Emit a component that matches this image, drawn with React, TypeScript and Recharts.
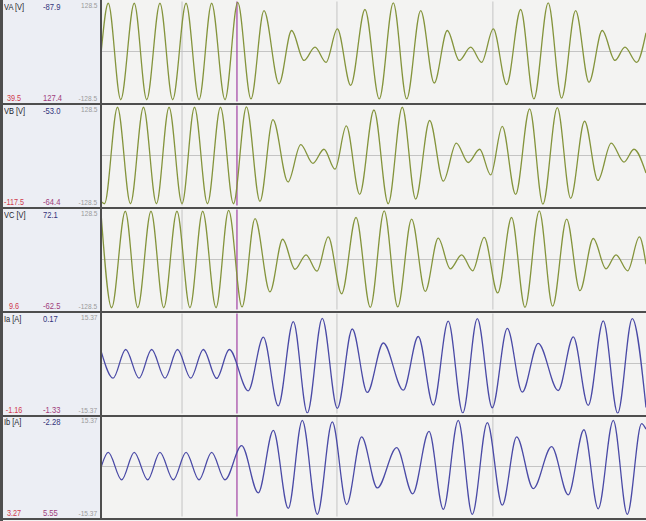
import React from 'react';
import { LineChart, Line, XAxis, YAxis, ReferenceLine } from 'recharts';

// time axis in ms (0 .. 419.7 over the visible window)
const timeDomain: [number, number] = [0, 419.7];
const gridTimes = [62.4, 181.7, 301.8];
const cursorTime = 104.7;

// VA [V] – extremes of the waveform
const vaT = [0, 5.6, 15.2, 25.6, 35.2, 45.4, 55.2, 65.5, 75.5, 85.2, 95.5, 105.3, 115.5, 125.5, 137.1, 146.8, 156.3, 164.8, 173.3, 182.0, 192.3, 203.3, 214.3, 225.1, 235.4, 246.2, 256.6, 266.7, 275.9, 284.7, 293.1, 302.1, 312.4, 323.2, 333.4, 344.4, 354.7, 365.5, 375.8, 386.0, 395.8, 403.5, 412.5, 419.7];
const vaV = [-6, 124, -124, 124, -124, 124, -124, 124, -124, 124, -124, 126, -122, 105, -83, 54, -23, 11, -28, 58, -87, 108, -122, 125, -122, 105, -81, 54, -23, 11, -28, 58, -85, 108, -122, 125, -120, 105, -79, 54, -23, 11, -28, 48];

// VB [V]
const vbT = [0, 2.7, 12.7, 22.7, 32.7, 42.7, 52.4, 62.4, 72.0, 82.0, 92.0, 102.0, 112.0, 122.4, 132.4, 144.0, 153.8, 163.2, 171.7, 180.2, 188.9, 199.2, 210.2, 221.2, 232.0, 242.3, 253.1, 263.6, 273.6, 282.8, 291.6, 300.1, 309.0, 319.3, 330.1, 340.3, 351.4, 361.7, 372.4, 382.7, 392.9, 402.7, 410.4, 419.7];
const vbV = [-118, -124, 124, -124, 124, -124, 124, -124, 124, -124, 124, -124, 125, -118, 92, -68, 28, -20, 16, -35, 76, -100, 117, -124, 124, -112, 90, -66, 32, -18, 16, -50, 75, -100, 120, -125, 123, -110, 88, -64, 32, -17, 16, -45];

// VC [V]
const vcT = [0, 8.2, 18.7, 28.3, 38.5, 48.3, 58.5, 68.5, 78.3, 88.6, 98.3, 108.6, 118.6, 130.1, 139.9, 149.4, 157.9, 166.3, 175.0, 185.3, 196.4, 207.4, 218.1, 228.5, 239.2, 249.7, 259.7, 269.0, 277.7, 286.2, 295.1, 305.5, 316.2, 326.5, 337.5, 347.8, 358.6, 368.8, 379.1, 388.9, 396.6, 405.6, 414.6, 419.7];
const vcV = [120, -124, 124, -124, 124, -124, 124, -124, 124, -124, 126, -122, 105, -83, 52, -25, 12, -30, 58, -88, 108, -123, 125, -122, 104, -82, 55, -24, 12, -29, 57, -86, 108, -123, 125, -120, 104, -80, 54, -24, 12, -29, 58, -12];

// Ia [A]
const iaT = [0, 9.3, 19.0, 29.3, 39.0, 49.3, 58.9, 69.1, 78.8, 89.1, 98.8, 113.4, 125.0, 136.5, 148.1, 158.9, 170.4, 182.0, 193.5, 205.1, 217.4, 232.8, 244.3, 255.9, 267.4, 278.6, 289.8, 301.3, 312.9, 324.4, 336.7, 352.1, 363.7, 375.2, 386.8, 397.9, 409.1, 419.7];
const iaV = [3.9, -4.5, 4.3, -4.5, 4.3, -4.5, 4.3, -4.5, 4.3, -4.6, 4.3, -8.4, 8.1, -13.0, 12.9, -15.2, 13.9, -13.8, 10.6, -8.9, 6.3, -8.2, 8.3, -12.8, 13.0, -15.2, 13.8, -13.6, 10.8, -8.8, 6.2, -8.3, 8.2, -12.9, 13.1, -15.3, 13.8, -13.5];

// Ib [A]
const ibT = [0, 5.6, 15.9, 25.6, 36.0, 45.4, 55.7, 65.5, 75.5, 85.2, 95.5, 108.3, 121.1, 132.7, 144.2, 155.0, 166.6, 178.1, 189.2, 200.7, 212.8, 227.7, 240.0, 252.6, 263.6, 275.1, 285.9, 297.5, 309.0, 320.1, 332.9, 347.0, 359.8, 371.9, 382.9, 394.5, 405.3, 416.3, 419.7];
const ibV = [-0.3, 4.35, -4.1, 4.35, -4.1, 4.35, -4.1, 4.35, -4.1, 4.35, -4.1, 6.4, -8.1, 11.1, -12.9, 14.2, -14.7, 13.7, -11.7, 9.1, -6.6, 5.8, -8.4, 10.8, -13.2, 14.2, -14.7, 13.5, -11.9, 9.1, -6.8, 6.1, -8.7, 11.3, -13.0, 14.2, -14.7, 13.2, 11.5];

// labels
const channelNames = ['VA [V]', 'VB [V]', 'VC [V]', 'Ia [A]', 'Ib [A]'];
const cursorValues = ['-87.9', '-53.0', '72.1', '0.17', '-2.28'];
const leftBottomValues = ['39.5', '-117.5', '9.6', '-1.16', '3.27'];
const midBottomValues = ['127.4', '-64.4', '-62.5', '-1.33', '5.55'];
const scaleMax = [128.5, 128.5, 128.5, 15.37, 15.37];
const scaleLabels = [['128.5', '-128.5'], ['128.5', '-128.5'], ['128.5', '-128.5'], ['15.37', '-15.37'], ['15.37', '-15.37']];

const GREEN = '#84943c';
const BLUE = '#4a4aa6';
const seriesT = [vaT, vbT, vcT, iaT, ibT];
const seriesV = [vaV, vbV, vcV, iaV, ibV];
const seriesColor = [GREEN, GREEN, GREEN, BLUE, BLUE];

const PANEL_TOPS = [0, 104, 208, 312, 415];
const PANEL_H = 104;
const SEPS = [104, 208, 312, 415.5, 519];

const zip = (t: number[], v: number[]) => t.map((x, i) => ({ t: x, v: v[i] }));

const FONT = '"Liberation Sans", Arial, sans-serif';

function Txt(props: { x: number; y: number; text: string; color: string; size: number; align: 'left' | 'right' | 'center'; sx: number }) {
  const { x, y, text, color, size, align, sx } = props;
  const style: React.CSSProperties = {
    position: 'absolute',
    top: y,
    fontFamily: FONT,
    fontSize: size,
    lineHeight: `${size}px`,
    color,
    whiteSpace: 'nowrap',
    transform: `scaleX(${sx})`,
  };
  if (align === 'left') {
    style.left = x;
    style.transformOrigin = 'left center';
  } else if (align === 'right') {
    style.right = 646 - x;
    style.transformOrigin = 'right center';
  } else {
    style.left = x - 30;
    style.width = 60;
    style.textAlign = 'center';
    style.transformOrigin = 'center center';
  }
  return <span style={style}>{text}</span>;
}

function Panel({ i }: { i: number }) {
  const top = PANEL_TOPS[i];
  const data = zip(seriesT[i], seriesV[i]);
  const m = scaleMax[i];
  return (
    <div style={{ position: 'absolute', left: 0, top, width: 646, height: PANEL_H }}>
      <div style={{ position: 'absolute', left: 0, top: 0, width: 101, height: PANEL_H, background: '#eceef4' }} />
      <div style={{ position: 'absolute', left: 101, top: 0, width: 545, height: PANEL_H, background: '#f3f3f2' }} />
      <Txt x={3.5} y={1.5} text={channelNames[i]} color="#22222a" size={9.8} align="left" sx={0.76} />
      <Txt x={43} y={1.5} text={cursorValues[i]} color="#33337a" size={9.8} align="left" sx={0.78} />
      <Txt x={97.5} y={1.8} text={scaleLabels[i][0]} color="#9a9a9a" size={7.8} align="right" sx={0.84} />
      <Txt x={13.5} y={93.4} text={leftBottomValues[i]} color="#d03a4c" size={9.8} align="center" sx={0.74} />
      <Txt x={43} y={93.4} text={midBottomValues[i]} color="#a03c7c" size={9.8} align="left" sx={0.78} />
      <Txt x={97.5} y={95} text={scaleLabels[i][1]} color="#9a9a9a" size={7.8} align="right" sx={0.84} />
      <div style={{ position: 'absolute', left: 101, top: 0 }}>
        <LineChart width={545} height={PANEL_H} data={data} margin={{ top: 1.5, right: 0, bottom: 2.5, left: 0 }}>
          <XAxis type="number" dataKey="t" domain={timeDomain} hide allowDataOverflow />
          <YAxis type="number" domain={[-m, m]} hide allowDataOverflow />
          <ReferenceLine y={0} stroke="#c4c4c4" strokeWidth={1} />
          {gridTimes.map((g) => (
            <ReferenceLine key={g} x={g} stroke="#c4c4c4" strokeWidth={1} />
          ))}
          <ReferenceLine x={cursorTime} stroke="#a040a4" strokeWidth={1.2} />
          <Line type="monotone" dataKey="v" stroke={seriesColor[i]} strokeWidth={1.3} dot={false} isAnimationActive={false} />
        </LineChart>
      </div>
    </div>
  );
}

export default function App() {
  return (
    <div style={{ position: 'absolute', left: 0, top: 0, width: 646, height: 521, overflow: 'hidden', background: '#f3f3f2' }}>
      {[0, 1, 2, 3, 4].map((i) => (
        <Panel key={i} i={i} />
      ))}
      {SEPS.map((s) => (
        <div key={s} style={{ position: 'absolute', left: 0, top: s - 1, width: 646, height: 2, background: '#4e4e4e' }} />
      ))}
      <div style={{ position: 'absolute', left: 0, top: 0, width: 2.5, height: 521, background: '#4e4e4e' }} />
      <div style={{ position: 'absolute', left: 100, top: 0, width: 2, height: 520, background: '#4e4e4e' }} />
    </div>
  );
}
